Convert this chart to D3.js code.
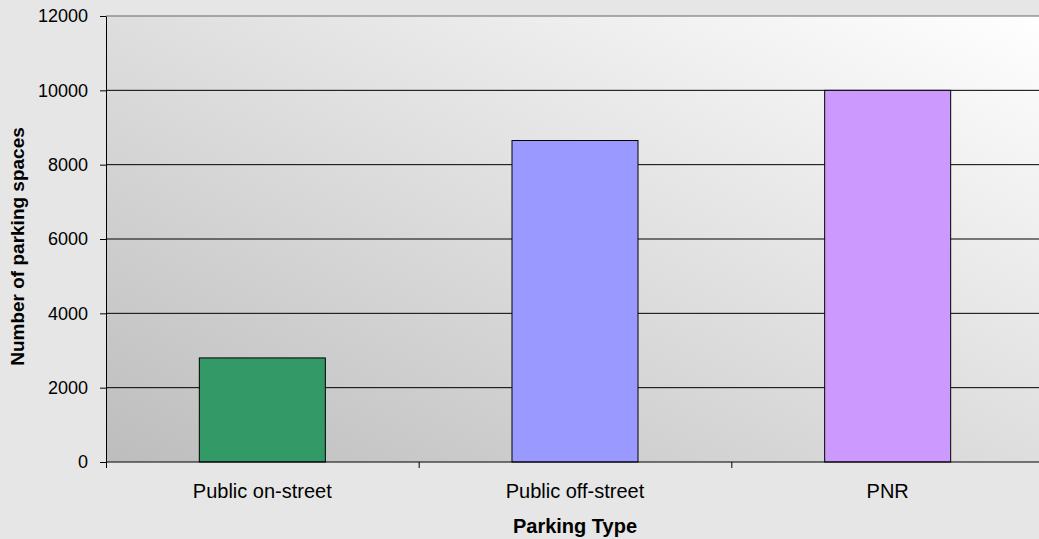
<!DOCTYPE html>
<html>
<head>
<meta charset="utf-8">
<script src="https://cdn.jsdelivr.net/npm/d3@7"></script>
<style>
  body { margin: 0; background: #e6e6e6; }
  svg { display: block; font-family: "Liberation Sans", Arial, sans-serif; }
</style>
</head>
<body>
<div id="chart"></div>
<script>
var categories = ["Public on-street", "Public off-street", "PNR"];
var spaces = [2800, 8650, 10000];
var barColors = ["#339966", "#9999ff", "#cc99ff"];
var yTicks = [0, 2000, 4000, 6000, 8000, 10000, 12000];

var width = 1039, height = 539;
// plot area runs a little past the right edge of the picture
var margin = { top: 16, right: -5, bottom: 77, left: 106 };
var innerW = width - margin.left - margin.right;
var innerH = height - margin.top - margin.bottom;

var svg = d3.select("#chart").append("svg")
    .attr("width", width)
    .attr("height", height);

// plot area gradient (dark bottom-left -> white top-right)
var defs = svg.append("defs");
var grad = defs.append("linearGradient")
    .attr("id", "plotbg")
    .attr("x1", "0%").attr("y1", "100%")
    .attr("x2", "100%").attr("y2", "0%");
grad.append("stop").attr("offset", "0%").attr("stop-color", "#bdbdbd");
grad.append("stop").attr("offset", "100%").attr("stop-color", "#ffffff");

var g = svg.append("g")
    .attr("transform", "translate(" + margin.left + "," + margin.top + ")");

g.append("rect")
    .attr("width", innerW)
    .attr("height", innerH)
    .attr("fill", "url(#plotbg)");

var x = d3.scaleBand()
    .domain(categories)
    .range([0, innerW])
    .padding(0);

var y = d3.scaleLinear()
    .domain([0, 12000])
    .range([innerH, 0]);

// gridlines
g.selectAll(".grid")
    .data(yTicks.filter(function(d) { return d > 0; }))
    .enter()
    .append("line")
        .attr("x1", 0)
        .attr("x2", innerW)
        .attr("y1", function(d) { return y(d); })
        .attr("y2", function(d) { return y(d); })
        .attr("stroke", function(d) { return d === 12000 ? "#666" : "#000"; })
        .attr("stroke-width", 1);

// bars
var barW = x.bandwidth() * 0.403;
g.selectAll(".bar")
    .data(spaces)
    .enter()
    .append("rect")
        .attr("x", function(d, i) { return x(categories[i]) + (x.bandwidth() - barW) / 2; })
        .attr("y", function(d) { return y(d); })
        .attr("width", barW)
        .attr("height", function(d) { return innerH - y(d); })
        .attr("fill", function(d, i) { return barColors[i]; })
        .attr("stroke", "#000")
        .attr("stroke-width", 1);

// y axis
var yAxis = g.append("g")
    .call(d3.axisLeft(y).tickValues(yTicks).tickFormat(d3.format("d"))
        .tickSize(6).tickPadding(12).tickSizeOuter(0));
yAxis.select(".domain").attr("stroke", "#000");
yAxis.selectAll("text").style("font-size", "18px").attr("fill", "#000");

// x axis with ticks at band boundaries
var xAxis = g.append("g")
    .attr("transform", "translate(0," + innerH + ")");
xAxis.append("line")
    .attr("x1", 0).attr("x2", innerW)
    .attr("y1", 0).attr("y2", 0)
    .attr("stroke", "#000");
xAxis.selectAll(".xtick")
    .data([0, 1, 2])
    .enter()
    .append("line")
        .attr("x1", function(d) { return x(categories[d]) + 0.5; })
        .attr("x2", function(d) { return x(categories[d]) + 0.5; })
        .attr("y1", 0)
        .attr("y2", 6)
        .attr("stroke", "#000");
xAxis.selectAll(".xlabel")
    .data(categories)
    .enter()
    .append("text")
        .attr("x", function(d) { return x(d) + x.bandwidth() / 2; })
        .attr("y", 36)
        .attr("text-anchor", "middle")
        .style("font-size", "20px")
        .text(function(d) { return d; });

// axis titles
svg.append("text")
    .attr("x", margin.left + innerW / 2)
    .attr("y", 533)
    .attr("text-anchor", "middle")
    .style("font-size", "20px")
    .style("font-weight", "bold")
    .text("Parking Type");

svg.append("text")
    .attr("transform", "translate(24,246.5) rotate(-90)")
    .attr("text-anchor", "middle")
    .style("font-size", "19px")
    .style("font-weight", "bold")
    .text("Number of parking spaces");
</script>
</body>
</html>
